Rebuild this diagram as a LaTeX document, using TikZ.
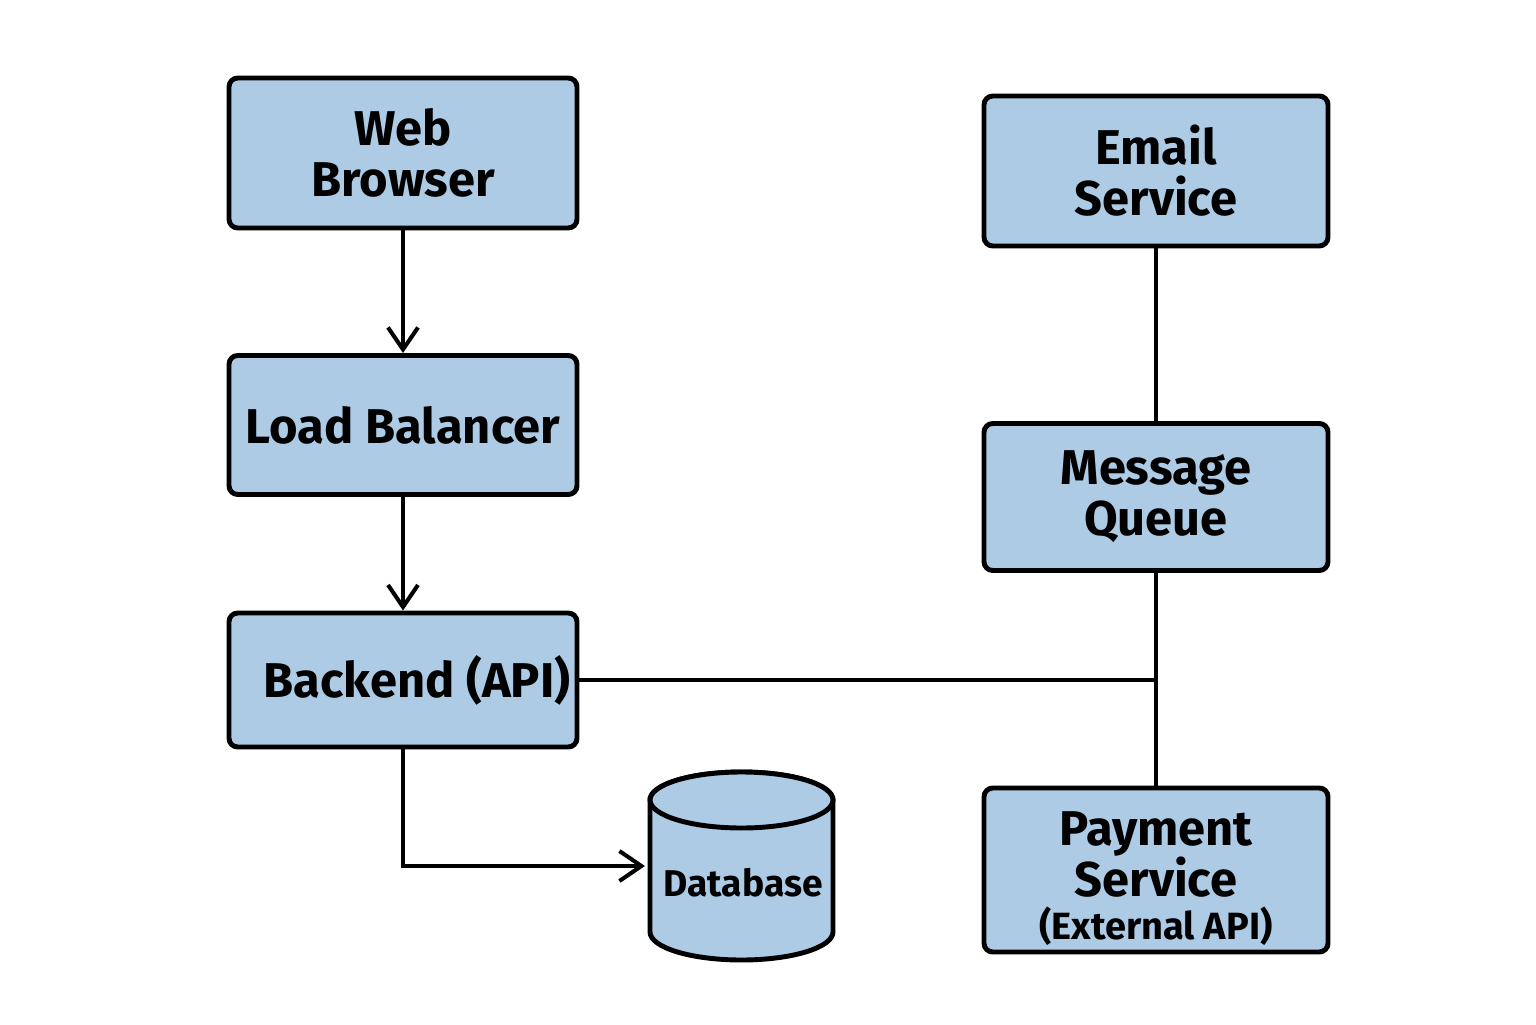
\documentclass[tikz,border=0pt]{standalone}
\usepackage{fontspec}
\setmainfont{Fira Sans}
\usetikzlibrary{arrows.meta}
\definecolor{boxblue}{RGB}{174,203,230}

\begin{document}
\begin{tikzpicture}
		\tikzset{box/.style = {shape=rectangle, draw, line width=1.4pt, rounded corners=2.5pt, fill=boxblue, align=center, inner sep=0pt, font=\fontsize{13.9}{14.5}\selectfont\bfseries}}
		\tikzset{link/.style = {line width=1.15pt}}
		\tikzset{arr/.style = {link, -{Straight Barb[length=2.2mm, width=3mm]}}}
		\tikzset{cyl/.style = {draw, line width=1.4pt, fill=boxblue}}

		\useasboundingbox (0,0) rectangle (15.36,10.24);

		\node[box, minimum width=3.48cm, minimum height=1.50cm] (Web) at (4.03,8.71) {Web\\Browser};
		\node[box, minimum width=3.48cm, minimum height=1.39cm] (LB) at (4.03,5.99) {Load Balancer};
		\node[box, minimum width=3.48cm, minimum height=1.34cm] (API) at (4.03,3.44) {\hspace{0.28cm}Backend (API)};

		\node[box, minimum width=3.44cm, minimum height=1.50cm] (Mail) at (11.56,8.53) {Email\\Service};
		\node[box, minimum width=3.44cm, minimum height=1.47cm] (MQ) at (11.56,5.27) {Message\\Queue};
		\node[box, minimum width=3.44cm, minimum height=1.64cm] (Pay) at (11.56,1.54) {\rule{0pt}{0.51cm}Payment\\Service\\[-2.2pt]{\fontsize{10.8}{11.6}\selectfont (External API)}};

		\node[shape=rectangle, inner sep=0pt, outer sep=0pt, minimum width=1.83cm, minimum height=1.88cm] (DB) at (7.415,1.58) {};
		\draw[cyl] ([yshift=-2.8mm]DB.north west) -- ([yshift=2.8mm]DB.south west) arc[start angle=180, end angle=360, x radius=0.915cm, y radius=0.28cm] -- ([yshift=-2.8mm]DB.north east) arc[start angle=0, end angle=180, x radius=0.915cm, y radius=0.28cm] -- cycle;
		\draw[cyl] ([yshift=-2.8mm]DB.north) ellipse [x radius=0.915cm, y radius=0.28cm];
		\node[font=\fontsize{10.6}{10.6}\selectfont\bfseries] (DB_t) at (7.43,1.41) {Database};

		\draw[arr] (Web) -- (LB);
		\draw[arr] (LB) -- (API);
		\draw[arr] (API.south) |- ([xshift=-0.5mm]DB.west);
		\draw[link] (Mail) -- (MQ);
		\draw[link] (MQ) -- (Pay);
		\draw[link] (API.east) -- (API.east -| MQ.south);

	\end{tikzpicture}
\end{document}
